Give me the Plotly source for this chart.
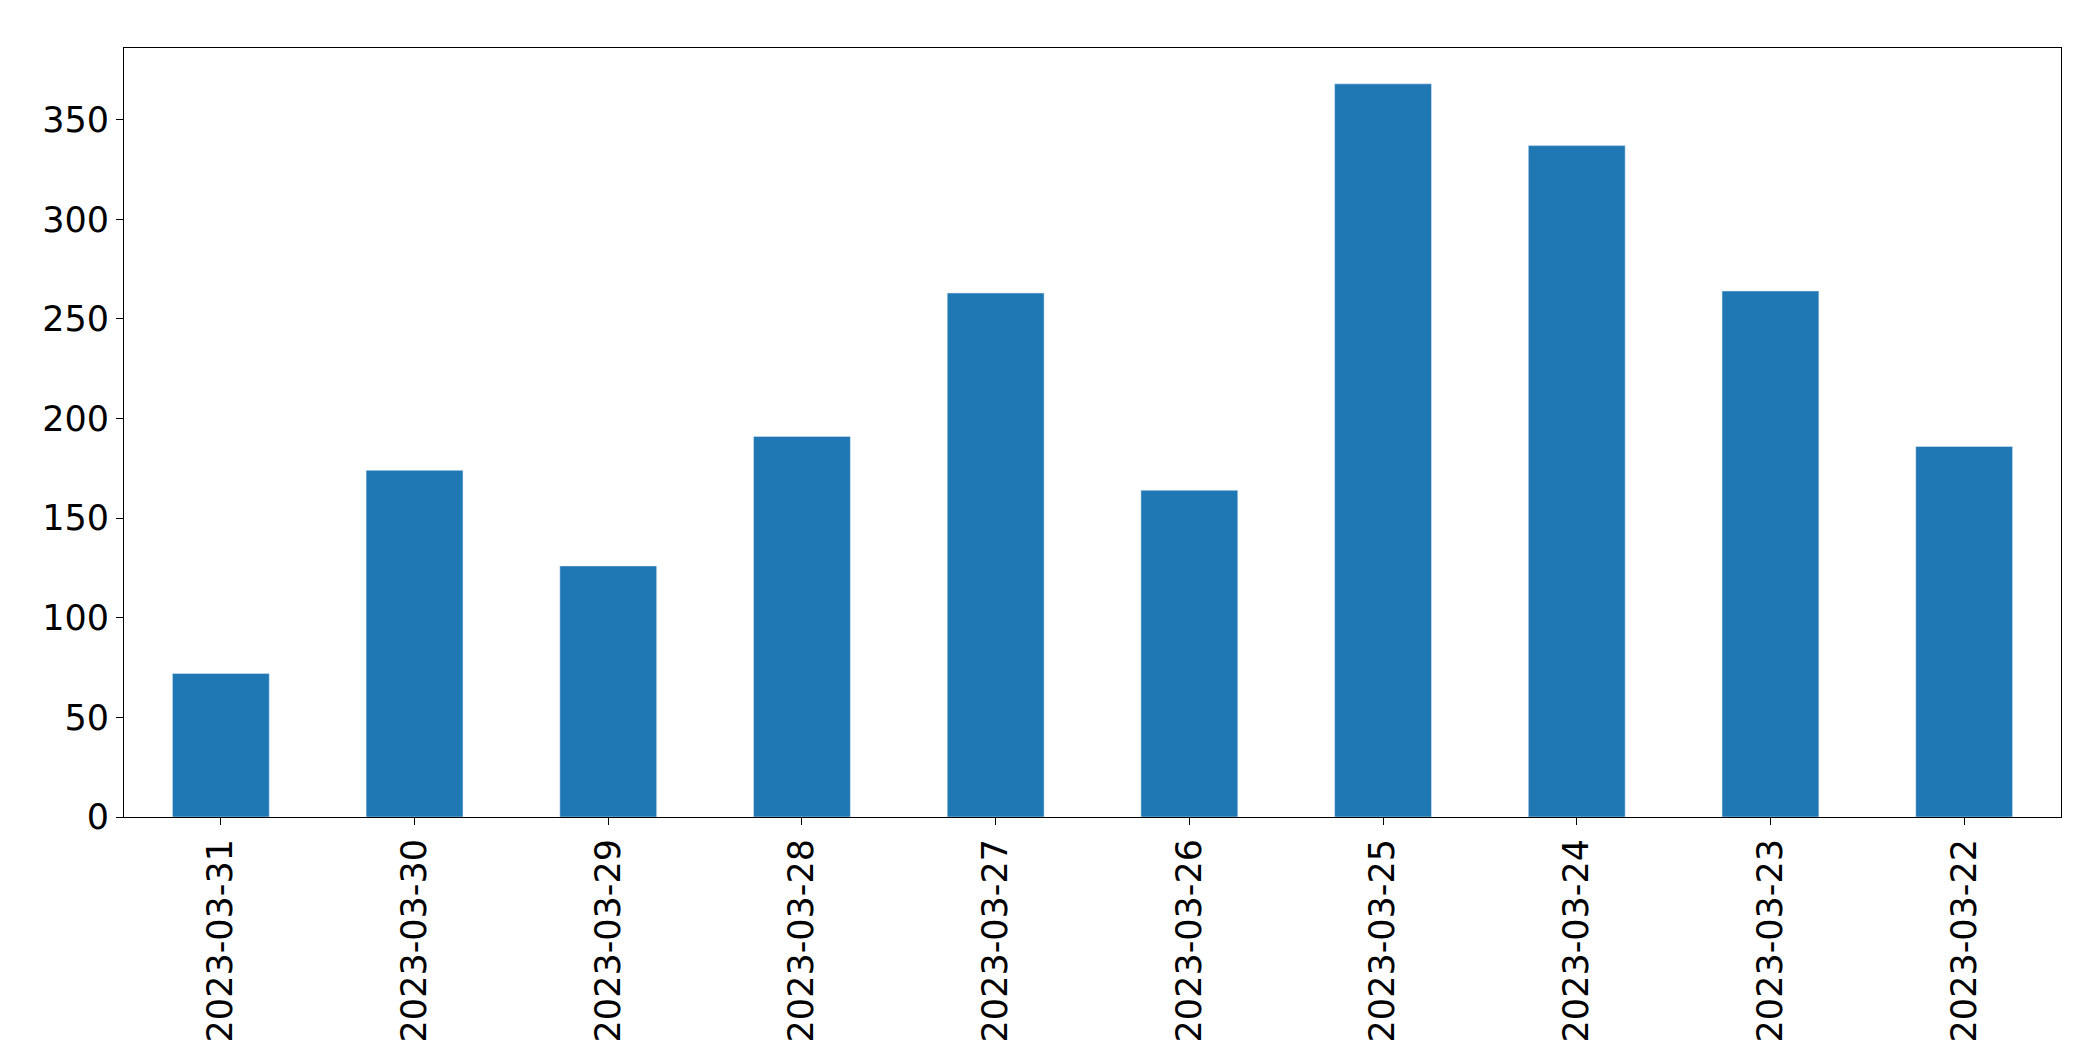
import plotly.graph_objects as go

dates = ['2023-03-31', '2023-03-30', '2023-03-29', '2023-03-28', '2023-03-27',
         '2023-03-26', '2023-03-25', '2023-03-24', '2023-03-23', '2023-03-22']
counts = [72, 174, 126, 191, 263, 164, 368, 337, 264, 186]

fig = go.Figure()
fig.add_trace(go.Bar(x=dates, y=counts, marker_color='#1f77b4', width=0.5))

axis_style = dict(showline=True, linecolor='black', linewidth=1, mirror=True,
                  ticks='outside', ticklen=7, tickcolor='black', showgrid=False,
                  zeroline=False)
fig.update_layout(
    width=2093, height=1061,
    plot_bgcolor='white', paper_bgcolor='white',
    margin=dict(l=116, r=40, t=40, b=252),
    font=dict(family='DejaVu Sans', size=35, color='black'),
    showlegend=False,
    xaxis=dict(type='category', tickangle=-90, range=[-0.5, 9.5], **axis_style),
    yaxis=dict(range=[0, 386], dtick=50, **axis_style),
)

fig.write_html("out.html")
